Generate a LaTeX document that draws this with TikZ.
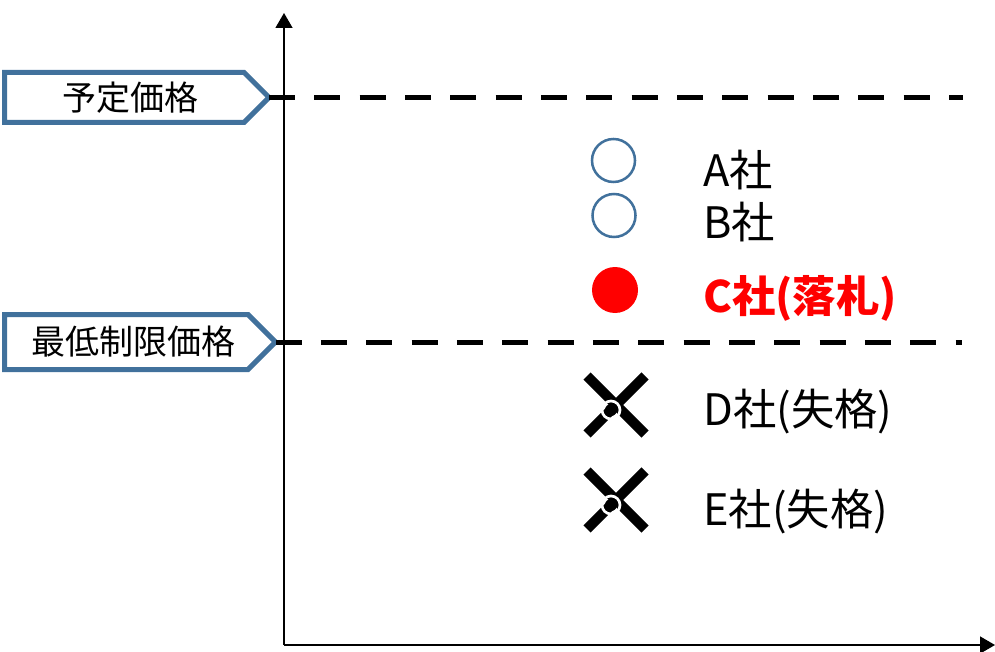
\documentclass[tikz,border=0pt]{standalone}
\usepackage{fontspec}
\setmainfont{Noto Sans CJK JP}
\usepackage{tikz}
\usetikzlibrary{shapes.symbols,arrows.meta}

\definecolor{tagblue}{RGB}{65,113,156}

\begin{document}
\begin{tikzpicture}[
                x=0.75pt, y=-0.75pt,
                tag/.style={signal, signal to=east, draw=tagblue, line width=3.75pt, fill=white, inner sep=0pt, outer sep=0pt, anchor=west, font=\fontsize{25.5}{28}\selectfont},
                bid/.style={circle, draw=tagblue, line width=1.9pt, minimum size=32.25pt, inner sep=0pt},
                won/.style={circle, fill=red, minimum size=34.5pt, inner sep=0pt},
                lbl/.style={anchor=west, inner sep=0pt, font=\fontsize{32.5}{36}\selectfont},
                limit/.style={dash pattern=on 19.5pt off 14.5pt, line width=3.75pt},
                axis/.style={-{Triangle[length=11.25pt, width=12.75pt]}, line width=1.1pt},
                failmark/.pic={
                    \draw[line width=7.5pt] (-29,-29) -- (29,29) (-29,29) -- (29,-29);
                    \draw[white, line width=2pt] (-5,5) circle[radius=9];
                    \fill (-5,5) circle[radius=6];
                }
            ]
            \useasboundingbox (0,0) rectangle (995,652);

            %axes
            \coordinate (O)     at (284,645);
            \coordinate (ytop)  at (284,13);
            \coordinate (xend)  at (995,645);
            \draw[axis] (O) -- (ytop);
            \draw[axis] (O) -- (xend);

            %price tags
            \node[tag, minimum width=198.4pt, minimum height=37.5pt]  (yotei)  at (4.5,97.5)  {\hspace*{9pt}予定価格};
            \node[tag, minimum width=203.25pt, minimum height=41.25pt] (saitei) at (4.5,342)   {\hspace*{11pt}最低制限価格};

            %dashed limits
            \coordinate (yotei_end)  at (963,97.5);
            \coordinate (saitei_end) at (962,342);
            \draw[limit] (yotei.east)  -- (yotei_end);
            \draw[limit] (saitei.east) -- (saitei_end);

            %bidders
            \node[bid]  (A) at (613.5,160.5) {};
            \node[bid]  (B) at (614,215.5)   {};
            \node[won]  (C) at (615,290)     {};
            \pic        (D) at (616,405)     {failmark};
            \pic        (E) at (616,500)     {failmark};

            %labels
            \node[lbl]                      (A_lbl) at (703,170) {A社};
            \node[lbl]                      (B_lbl) at (703,222) {B社};
            \node[lbl, red, font=\fontsize{32.5}{36}\selectfont\bfseries] (C_lbl) at (703,298) {C社(落札)};
            \node[lbl]                      (D_lbl) at (703,412) {D社(失格)};
            \node[lbl]                      (E_lbl) at (703,512) {E社(失格)};

\end{tikzpicture}
\end{document}
